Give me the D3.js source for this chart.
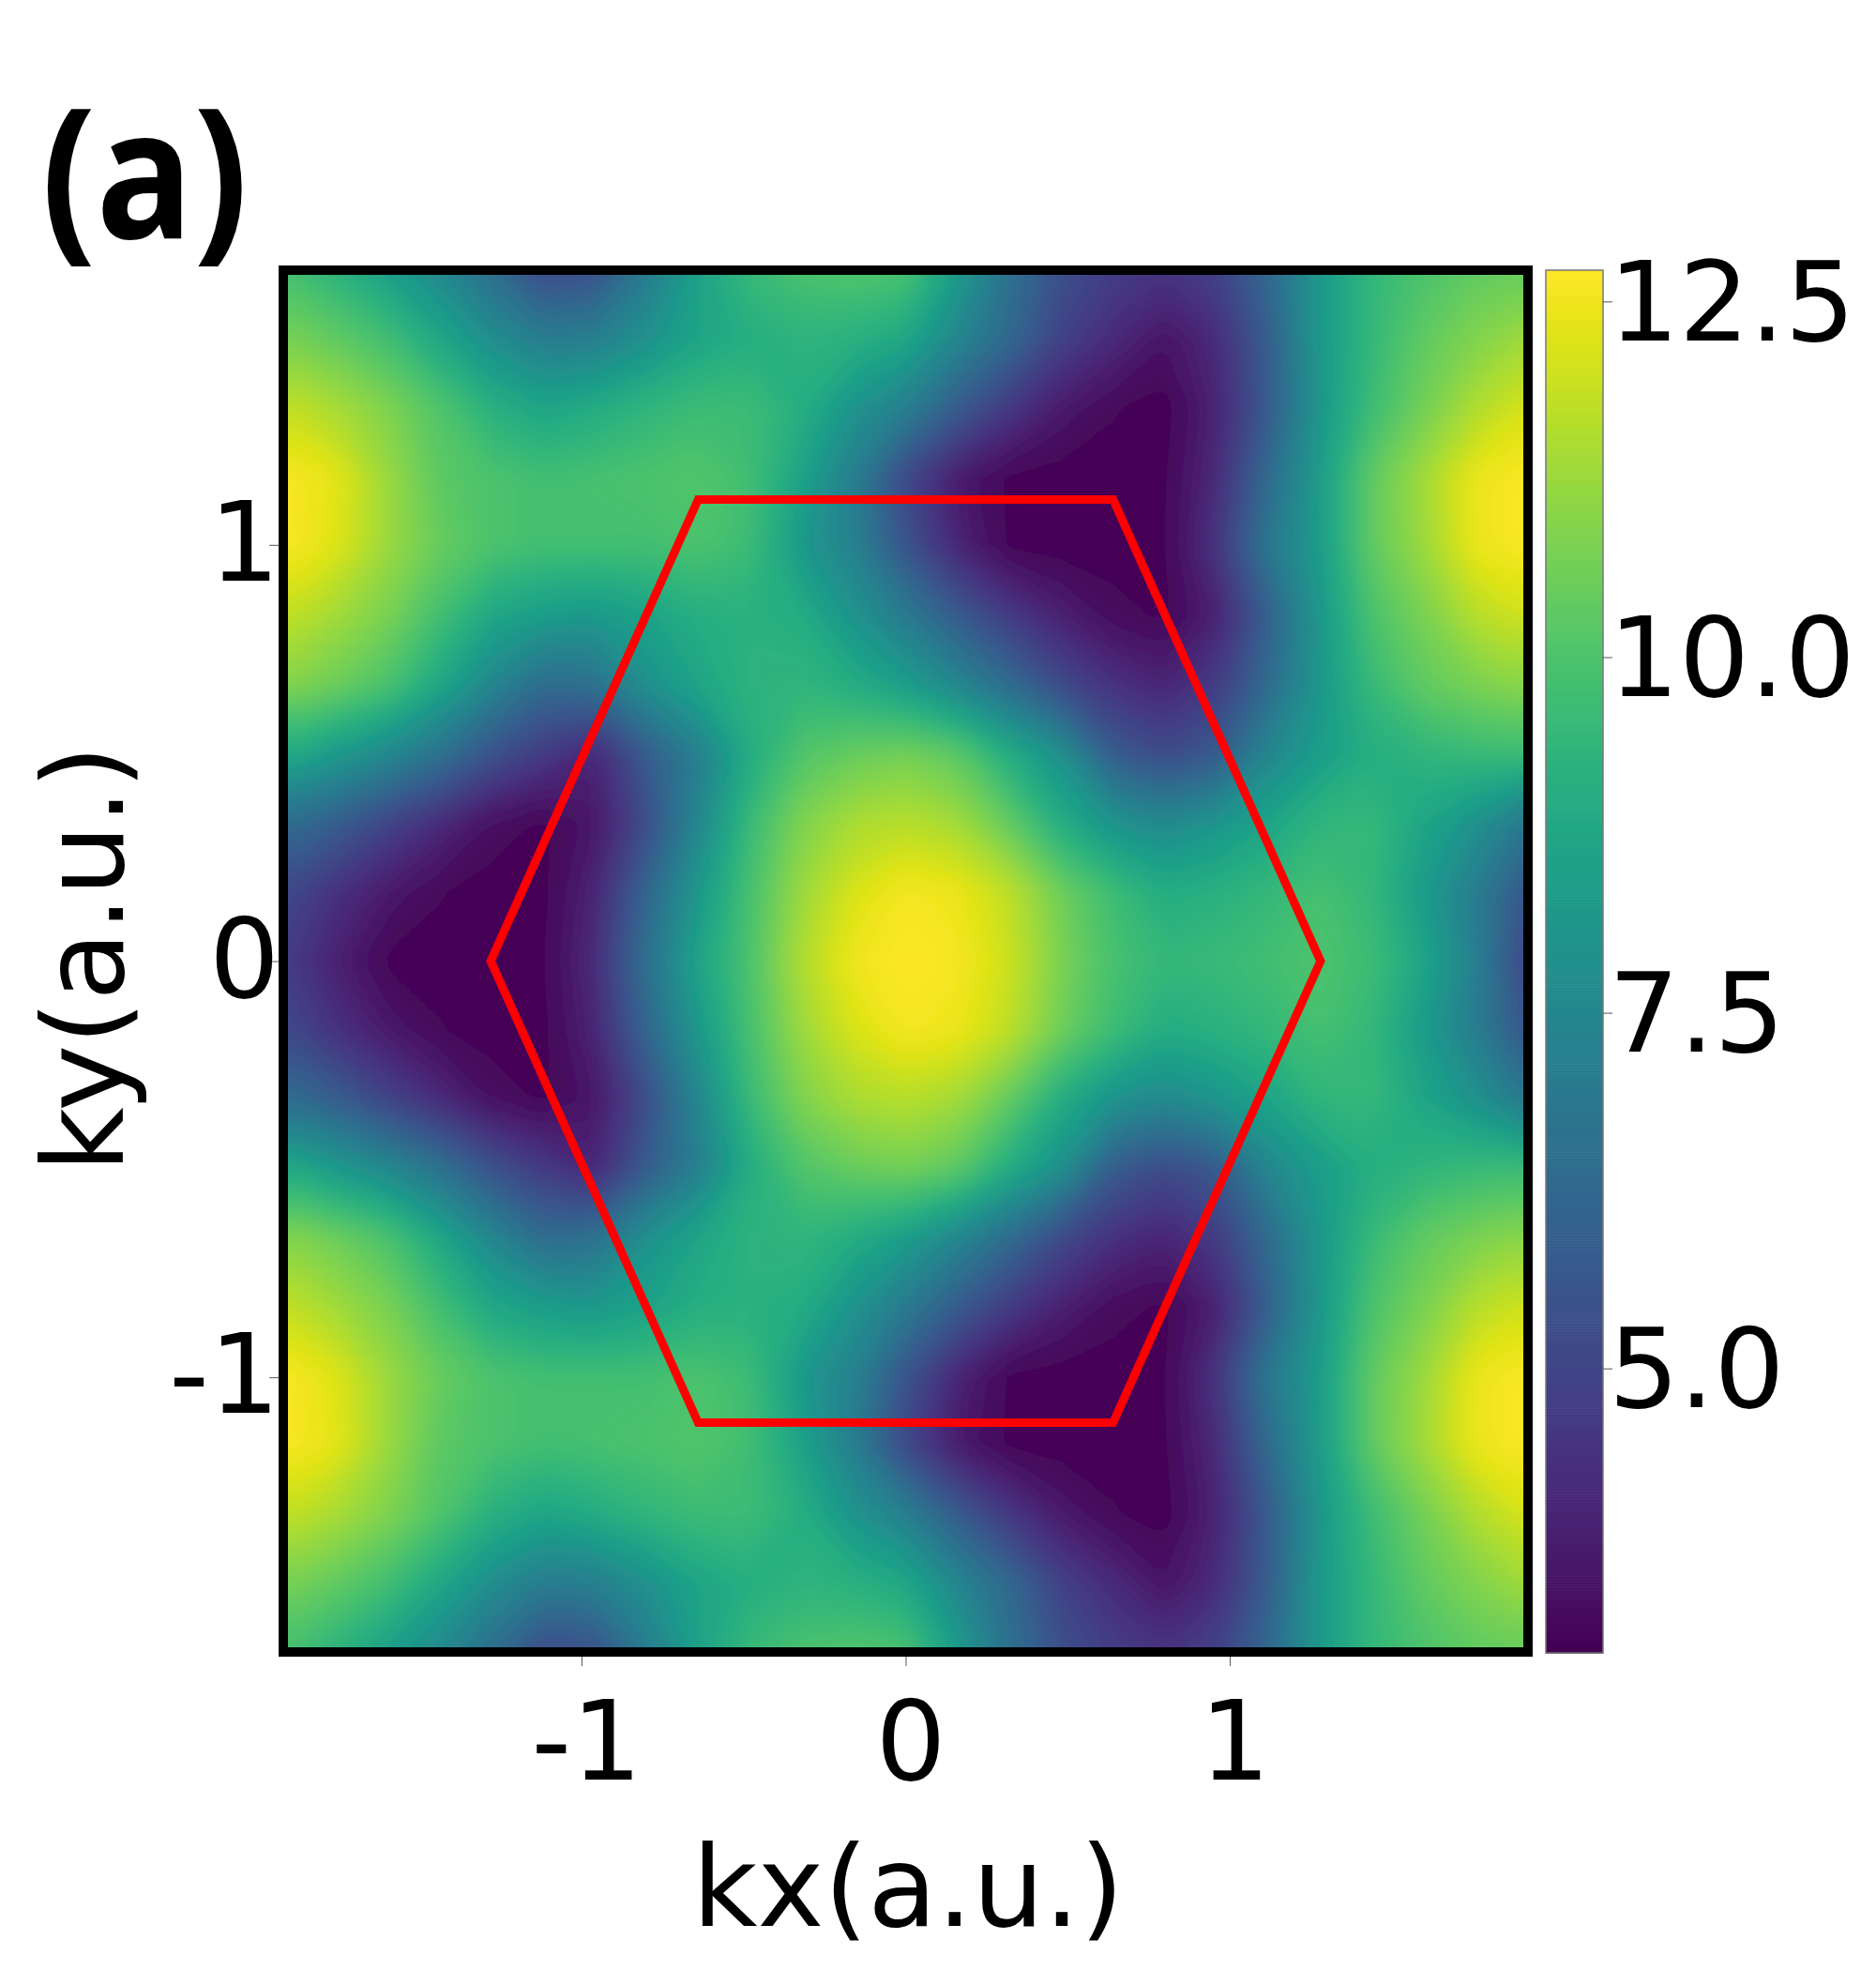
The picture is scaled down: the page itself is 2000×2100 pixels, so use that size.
<!DOCTYPE html>
<html>
<head>
<meta charset="utf-8">
<script src="https://cdn.jsdelivr.net/npm/d3@7"></script>
<style>
  body { margin: 0; background: #fff; }
  text { font-family: "DejaVu Sans"; fill: #000; }
</style>
</head>
<body>
<div id="chart"></div>
<script>
// kx runs -1.92..1.92 in 25 columns, ky runs 1.66..-1.66 in 21 rows
const kxRange = [-1.92, 1.92];
const kyRange = [-1.66, 1.66];
const energy = [
  [9.9,9.3,8.5,7.6,6.5,5.2,5.4,7.0,8.6,9.6,10.0,10.1,10.0,8.4,6.6,5.4,4.8,4.5,4.9,6.3,8.3,9.5,10.0,10.4,10.5],
  [10.8,10.4,9.8,8.8,7.8,7.1,7.2,7.9,8.7,9.1,9.3,9.2,8.8,7.5,6.3,4.9,4.2,3.5,4.2,5.9,8.3,9.5,10.4,10.9,11.4],
  [11.9,11.5,10.9,10.1,9.2,8.7,9.0,9.4,9.7,9.7,9.1,8.0,7.2,5.8,4.6,3.7,3.2,3.0,4.0,5.8,8.2,9.7,10.7,11.6,12.2],
  [12.72,12.4,11.3,10.3,10.0,9.8,9.9,10.0,10.1,9.8,8.6,7.1,5.1,3.7,3.1,3.0,3.0,3.1,4.2,6.4,8.4,10.4,11.4,12.5,12.72],
  [12.72,12.3,11.3,10.5,10.0,9.8,9.8,9.8,10.0,9.7,8.2,7.3,5.5,4.0,3.1,3.0,3.0,3.1,4.5,6.9,8.4,10.4,11.3,12.5,12.72],
  [11.9,11.4,10.8,9.8,8.8,8.4,8.2,8.6,9.1,9.2,9.0,8.0,7.0,5.8,4.7,3.9,3.3,3.1,3.9,6.0,8.2,10.0,10.8,11.7,12.1],
  [11.0,10.6,10.0,8.8,7.5,6.4,6.6,7.9,8.7,9.3,9.4,9.0,8.4,7.5,6.4,5.2,4.4,4.0,4.7,6.4,8.2,9.6,10.4,10.8,11.1],
  [9.0,8.3,7.6,6.7,5.5,4.7,4.0,5.8,7.2,9.0,10.1,10.5,10.7,10.3,9.0,7.9,5.8,5.2,5.7,7.5,8.4,9.1,9.4,9.6,9.7],
  [6.5,5.9,5.0,4.2,3.4,3.1,3.6,5.3,7.5,9.6,10.9,11.5,11.7,11.4,10.4,9.0,8.0,7.6,8.1,8.7,9.4,9.5,8.7,7.9,6.8],
  [5.2,4.4,3.7,3.2,3.0,3.05,4.0,6.2,8.2,9.9,11.3,12.2,12.65,12.5,11.8,10.6,9.7,9.0,9.2,9.5,9.9,9.5,8.3,7.1,5.5],
  [4.8,3.9,3.1,3.0,3.0,3.1,4.2,6.6,8.7,10.0,11.6,12.55,12.72,12.65,12.0,10.8,9.9,9.5,9.6,9.8,10.0,9.7,8.7,7.2,5.0],
  [5.2,4.4,3.7,3.2,3.0,3.05,4.0,6.2,8.2,9.9,11.3,12.2,12.65,12.5,11.8,10.6,9.7,9.0,9.2,9.5,9.9,9.5,8.3,7.1,5.5],
  [6.5,5.9,5.0,4.2,3.4,3.1,3.6,5.3,7.5,9.6,10.9,11.5,11.7,11.4,10.4,9.0,8.0,7.6,8.1,8.7,9.4,9.5,8.7,7.9,6.8],
  [9.0,8.3,7.6,6.7,5.5,4.7,4.0,5.8,7.2,9.0,10.1,10.5,10.7,10.3,9.0,7.9,5.8,5.2,5.7,7.5,8.4,9.1,9.4,9.6,9.7],
  [11.0,10.6,10.0,8.8,7.5,6.4,6.6,7.9,8.7,9.3,9.4,9.0,8.4,7.5,6.4,5.2,4.4,4.0,4.7,6.4,8.2,9.6,10.4,10.8,11.1],
  [11.9,11.4,10.8,9.8,8.8,8.4,8.2,8.6,9.1,9.2,9.0,8.0,7.0,5.8,4.7,3.9,3.3,3.1,3.9,6.0,8.2,10.0,10.8,11.7,12.1],
  [12.72,12.3,11.3,10.5,10.0,9.8,9.8,9.8,10.0,9.7,8.2,7.3,5.5,4.0,3.1,3.0,3.0,3.1,4.5,6.9,8.4,10.4,11.3,12.5,12.72],
  [12.72,12.4,11.3,10.3,10.0,9.8,9.9,10.0,10.1,9.8,8.6,7.1,5.1,3.7,3.1,3.0,3.0,3.1,4.2,6.4,8.4,10.4,11.4,12.5,12.72],
  [11.9,11.5,10.9,10.1,9.2,8.7,9.0,9.4,9.7,9.7,9.1,8.0,7.2,5.8,4.6,3.7,3.2,3.0,4.0,5.8,8.2,9.7,10.7,11.6,12.2],
  [10.8,10.4,9.8,8.8,7.8,7.1,7.2,7.9,8.7,9.1,9.3,9.2,8.8,7.5,6.3,4.9,4.2,3.5,4.2,5.9,8.3,9.5,10.4,10.9,11.4],
  [9.9,9.3,8.5,7.6,6.5,5.2,5.4,7.0,8.6,9.6,10.0,10.1,10.0,8.4,6.6,5.4,4.8,4.5,4.9,6.3,8.3,9.5,10.0,10.4,10.5]
];
const hexagon = [[1.28,0],[0.64,1.109],[-0.64,1.109],[-1.28,0],[-0.64,-1.109],[0.64,-1.109]];
const xTicks = [-1, 0, 1];
const yTicks = [-1, 0, 1];
const colorTicks = [5, 7.5, 10, 12.5];
const colorDomain = [3.0, 12.72];

const svg = d3.select("#chart").append("svg")
  .attr("width", 2000)
  .attr("height", 2100);

const x = d3.scaleLinear().domain(kxRange).range([302, 1629]);
const y = d3.scaleLinear().domain(kyRange).range([1761, 288]);
const color = d3.scaleSequential(d3.interpolateViridis).domain(colorDomain);

// grid index -> k space, d3.contours puts sample i at i + 0.5
const nRows = energy.length, nCols = energy[0].length;
const colToKx = d3.scaleLinear().domain([0.5, nCols - 0.5]).range(kxRange);
const rowToKy = d3.scaleLinear().domain([0.5, nRows - 0.5]).range([kyRange[1], kyRange[0]]);

const project = d3.geoPath(d3.geoTransform({
  point(c, r) { this.stream.point(x(colToKx(c)), y(rowToKy(r))); }
}));

const contours = d3.contours()
  .size([nCols, nRows])
  .smooth(true)
  .thresholds(d3.range(colorDomain[0], colorDomain[1], 0.08))(energy.flat());

const defs = svg.append("defs");
defs.append("clipPath").attr("id", "plot-clip")
  .append("rect")
  .attr("x", x.range()[0]).attr("y", y.range()[1])
  .attr("width", x.range()[1] - x.range()[0])
  .attr("height", y.range()[0] - y.range()[1]);
defs.append("filter").attr("id", "soften")
  .attr("filterUnits", "userSpaceOnUse")
  .attr("x", 200).attr("y", 180).attr("width", 1540).attr("height", 1700)
  .append("feGaussianBlur").attr("stdDeviation", 12);

svg.append("g").attr("clip-path", "url(#plot-clip)")
  .append("g").attr("filter", "url(#soften)")
  .selectAll("path")
  .data(contours)
  .join("path")
  .attr("d", project)
  .attr("fill", d => color(d.value));

svg.append("path")
  .datum(hexagon)
  .attr("d", d3.line().x(d => x(d[0])).y(d => y(d[1])).curve(d3.curveLinearClosed))
  .attr("fill", "none")
  .attr("stroke", "#ff0000")
  .attr("stroke-width", 9);

svg.append("rect")
  .attr("x", x.range()[0]).attr("y", y.range()[1])
  .attr("width", x.range()[1] - x.range()[0])
  .attr("height", y.range()[0] - y.range()[1])
  .attr("fill", "none")
  .attr("stroke", "#000")
  .attr("stroke-width", 10);

// axes, tick labels keep the plain hyphen of the original
const xAxis = svg.append("g")
  .attr("transform", "translate(0,1766)")
  .call(d3.axisBottom(x).tickValues(xTicks).tickFormat(String).tickSize(10).tickPadding(37));
xAxis.selectAll(".tick text").attr("x", 5);
const yAxis = svg.append("g")
  .attr("transform", "translate(297,0)")
  .call(d3.axisLeft(y).tickValues(yTicks).tickFormat(String).tickSize(10).tickPadding(-11));

// colorbar
const cbX = [1648, 1709];
const cbY = d3.scaleLinear().domain(colorDomain).range([1762, 288]);
svg.append("g").selectAll("rect")
  .data(d3.range(colorDomain[0], colorDomain[1], 0.02))
  .join("rect")
  .attr("x", cbX[0])
  .attr("y", d => cbY(d + 0.02))
  .attr("width", cbX[1] - cbX[0])
  .attr("height", d => cbY(d) - cbY(d + 0.02) + 0.6)
  .attr("fill", d => color(d));
svg.append("rect")
  .attr("x", cbX[0]).attr("y", 288)
  .attr("width", cbX[1] - cbX[0]).attr("height", 1474)
  .attr("fill", "none").attr("stroke", "#777").attr("stroke-width", 1.5);
const cAxis = svg.append("g")
  .attr("transform", `translate(${cbX[1]},0)`)
  .call(d3.axisRight(cbY).tickValues(colorTicks).tickFormat(d3.format(".1f")).tickSize(10).tickPadding(-4));
cAxis.selectAll(".tick text").attr("y", 3);

[xAxis, yAxis, cAxis].forEach(g => {
  g.select(".domain").remove();
  g.selectAll(".tick line").attr("stroke", "#555").attr("stroke-width", 1);
  g.selectAll(".tick text")
    .style("font-family", "DejaVu Sans")
    .style("font-size", "118px")
    .attr("fill", "#000");
});

svg.append("text")
  .attr("x", 968).attr("y", 2053)
  .attr("text-anchor", "middle")
  .style("font-size", "120px")
  .text("kx(a.u.)");

svg.append("text")
  .attr("transform", "translate(131,1022) rotate(-90)")
  .attr("text-anchor", "middle")
  .style("font-size", "120px")
  .text("ky(a.u.)");

// the panel letter is taller than Open Sans at this width
svg.append("text")
  .attr("transform", "translate(44,254) scale(1,1.12)")
  .style("font-family", "Open Sans")
  .style("font-weight", 700)
  .style("font-size", "172px")
  .text("(a)");
</script>
</body>
</html>
